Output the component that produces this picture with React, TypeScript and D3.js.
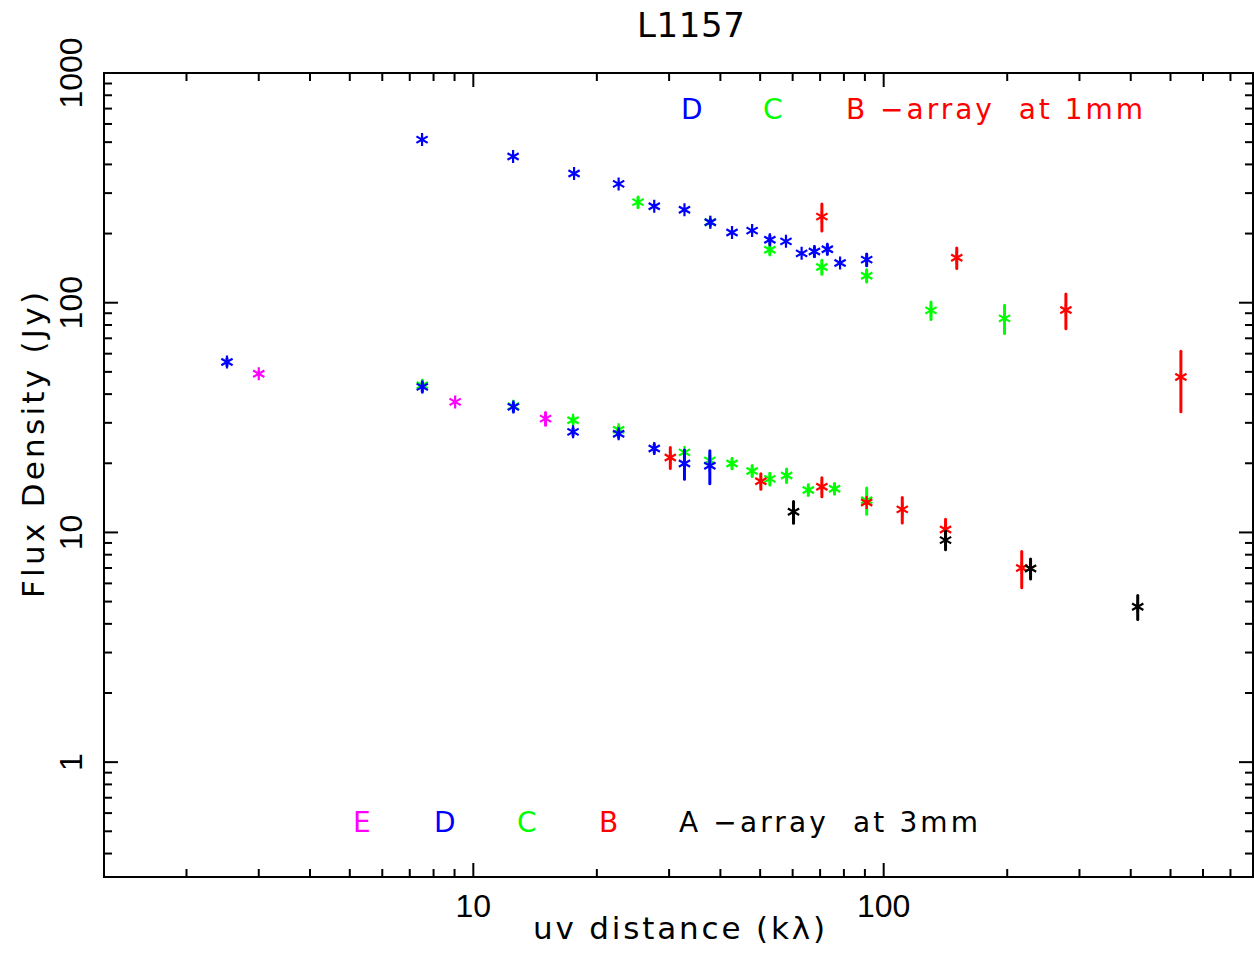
import React from "react";
import * as d3 from "d3";

// [uv distance (klambda), flux density (Jy), error (Jy)]
const dArray1mm = [
  [7.5, 513, 0], [12.5, 433, 0], [17.6, 365, 0], [22.6, 329, 0], [27.6, 263, 0],
  [32.7, 254, 0], [37.8, 224, 6], [42.7, 202, 0], [47.8, 206, 0], [52.8, 188, 8],
  [57.8, 185, 0], [63.1, 164, 0], [67.8, 167, 8], [72.9, 171, 8], [78.3, 149, 0],
  [90.9, 154, 9],
];
const cArray1mm = [
  [25.2, 274, 14], [37.8, 224, 8], [52.8, 170, 8], [70.7, 143, 10],
  [90.9, 131, 8], [130.4, 92.6, 8], [197, 85.5, 12],
];
const bArray1mm = [
  [70.7, 237, 32], [150.7, 157, 16], [278, 93, 16], [530, 47.5, 14],
];

const eArray3mm = [
  [3.0, 49.1, 0], [9.03, 37.0, 0], [15.0, 31.3, 2],
];
const dArray3mm = [
  [2.51, 55.2, 2], [7.51, 43.0, 2], [12.52, 35.2, 1.5], [17.5, 27.4, 1],
  [22.6, 26.9, 1], [27.6, 23.2, 1], [32.7, 19.95, 2.9], [37.7, 19.5, 3.2],
];
const cArray3mm = [
  [7.51, 43.7, 2], [12.52, 35.4, 0], [17.5, 30.8, 1], [22.6, 28.0, 1],
  [32.7, 22.3, 0], [37.7, 20.6, 1], [42.7, 19.95, 1], [47.8, 18.5, 1],
  [52.8, 17.1, 1], [58.0, 17.7, 1.2], [65.5, 15.3, 0.8], [75.9, 15.5, 0.8],
  [90.9, 13.8, 1.8],
];
const bArray3mm = [
  [30.2, 21.2, 2.2], [50.2, 16.7, 1.3], [70.7, 15.8, 1.5], [90.9, 13.5, 0],
  [111, 12.6, 1.6], [141.5, 10.3, 1.1], [217, 7.0, 1.25],
];
const aArray3mm = [
  [60.3, 12.3, 1.35], [141.5, 9.26, 0.85], [228, 6.97, 0.7], [416, 4.75, 0.57],
];

const xTickLabels = [10, 100];
const yTickLabels = [1, 10, 100, 1000];

const series = [
  { data: cArray1mm, color: "#00ff00" },
  { data: dArray1mm, color: "#0000ff" },
  { data: bArray1mm, color: "#ff0000" },
  { data: cArray3mm, color: "#00ff00" },
  { data: dArray3mm, color: "#0000ff" },
  { data: eArray3mm, color: "#ff00ff" },
  { data: bArray3mm, color: "#ff0000" },
  { data: aArray3mm, color: "#000000" },
];

const W = 1254;
const H = 953;
const left = 104;
const right = 1253;
const top = 73;
const bottom = 877;
const tickFont = "'Liberation Sans', Arial, sans-serif";
const font = "'DejaVu Sans', sans-serif";

const App = () => {
  const x = d3.scaleLog().domain([10 ** 0.1, 10 ** 2.9]).range([left, right]);
  const y = d3.scaleLog().domain([10 ** -0.5, 1000]).range([bottom, top]);

  const isMajor = (v) => Math.abs(Math.log10(v) - Math.round(Math.log10(v))) < 1e-9;

  // asterisk marker like pgplot symbol 3
  const star = (cx, cy) => {
    const r = 6.5;
    const dx = r * Math.cos(Math.PI / 6);
    const dy = r * Math.sin(Math.PI / 6);
    return `M${cx},${cy - r}L${cx},${cy + r}M${cx - dx},${cy - dy}L${cx + dx},${cy + dy}M${cx - dx},${cy + dy}L${cx + dx},${cy - dy}`;
  };

  return (
    <svg width={W} height={H} style={{ position: "absolute", left: 0, top: 0, background: "#fff" }}>
      <rect x={left} y={top} width={right - left} height={bottom - top} fill="none" stroke="#000" strokeWidth={2} />

      {x.ticks().map((t, i) => {
        const len = isMajor(t) ? 14 : 8;
        return (
          <g key={"xt" + i} stroke="#000" strokeWidth={2}>
            <line x1={x(t)} x2={x(t)} y1={bottom} y2={bottom - len} />
            <line x1={x(t)} x2={x(t)} y1={top} y2={top + len} />
          </g>
        );
      })}
      {y.ticks().map((t, i) => {
        const len = isMajor(t) ? 14 : 8;
        return (
          <g key={"yt" + i} stroke="#000" strokeWidth={2}>
            <line x1={left} x2={left + len} y1={y(t)} y2={y(t)} />
            <line x1={right} x2={right - len} y1={y(t)} y2={y(t)} />
          </g>
        );
      })}

      {xTickLabels.map((t) => (
        <text key={"xl" + t} x={x(t)} y={917} textAnchor="middle" fontFamily={tickFont} fontSize={32}>
          {t}
        </text>
      ))}
      {yTickLabels.map((t) => (
        <text
          key={"yl" + t}
          transform={`translate(82,${y(t)}) rotate(-90)`}
          textAnchor="middle"
          fontFamily={tickFont}
          fontSize={32}
        >
          {t}
        </text>
      ))}

      <text x={691} y={37} textAnchor="middle" fontFamily={font} fontSize={34} textLength={108} lengthAdjust="spacing">
        L1157
      </text>
      <text x={679} y={939} textAnchor="middle" fontFamily={font} fontSize={31} textLength={292} lengthAdjust="spacing">
        uv distance (kλ)
      </text>
      <text
        transform="translate(44,445) rotate(-90)"
        textAnchor="middle"
        fontFamily={font}
        fontSize={31}
        textLength={306}
        lengthAdjust="spacing"
      >
        Flux Density (Jy)
      </text>

      <g fontFamily={font} fontSize={28}>
        <text x={681} y={119} fill="#0000ff">D</text>
        <text x={763} y={119} fill="#00ff00">C</text>
        <text x={846} y={119} fill="#ff0000" xmlSpace="preserve" style={{ whiteSpace: "pre" }} textLength={297} lengthAdjust="spacing">
          {"B \u2212array  at 1mm"}
        </text>
        <text x={353} y={832} fill="#ff00ff">E</text>
        <text x={434} y={832} fill="#0000ff">D</text>
        <text x={517} y={832} fill="#00ff00">C</text>
        <text x={599} y={832} fill="#ff0000">B</text>
        <text x={679} y={832} fill="#000000" xmlSpace="preserve" style={{ whiteSpace: "pre" }} textLength={299} lengthAdjust="spacing">
          {"A \u2212array  at 3mm"}
        </text>
      </g>

      {series.map((s, si) => (
        <g key={"s" + si} stroke={s.color} fill="none">
          {s.data.map((d, i) => (
            <g key={i}>
              {d[2] > 0 && (
                <line
                  x1={x(d[0])}
                  x2={x(d[0])}
                  y1={y(d[1] + d[2])}
                  y2={y(d[1] - d[2])}
                  strokeWidth={3}
                  strokeLinecap="round"
                />
              )}
              <path d={star(x(d[0]), y(d[1]))} strokeWidth={2.2} />
            </g>
          ))}
        </g>
      ))}
    </svg>
  );
};

export default App;
